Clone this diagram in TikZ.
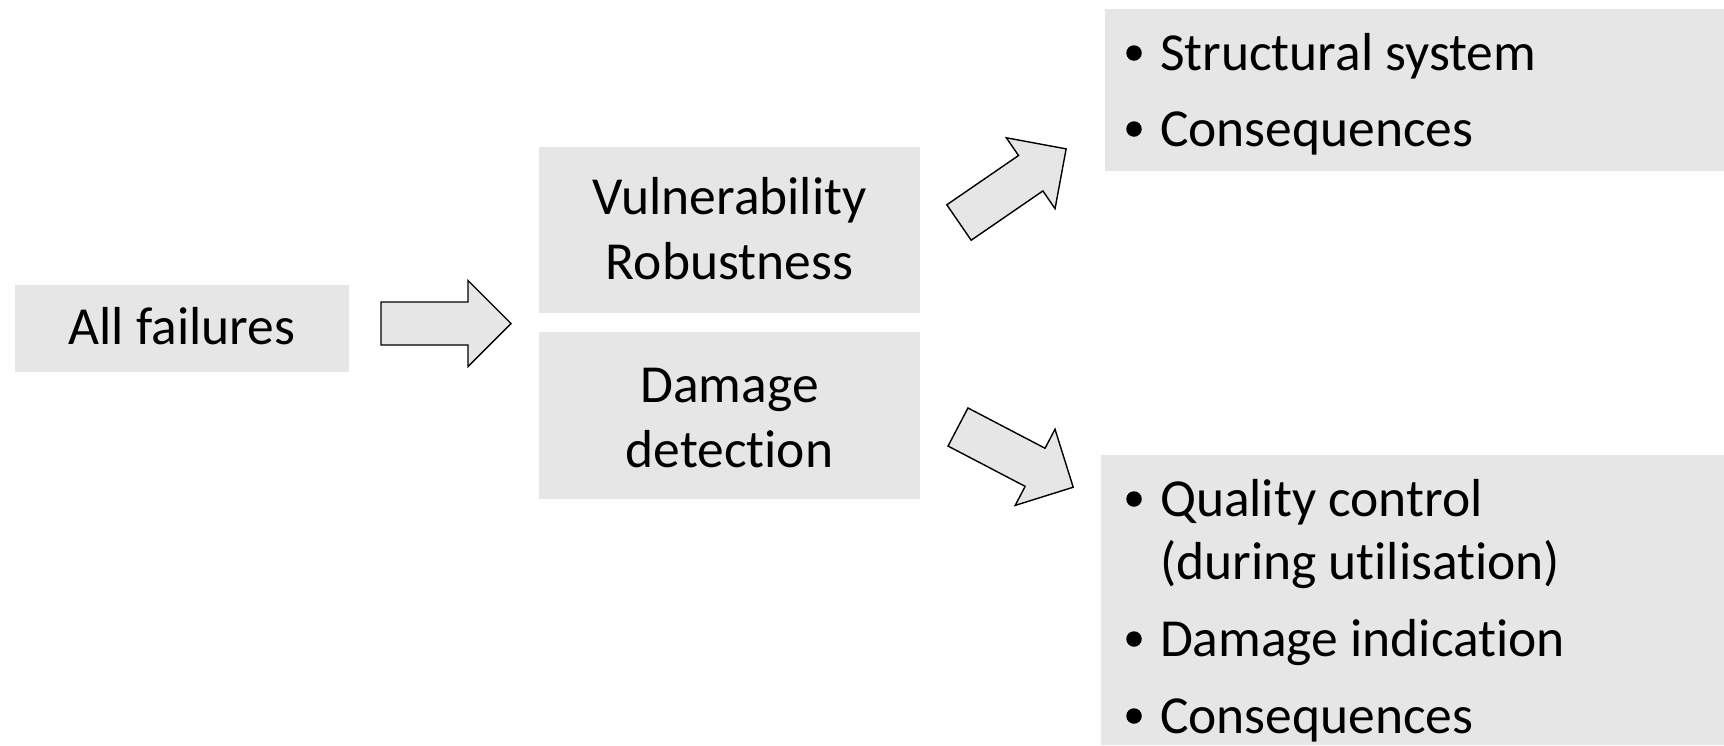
\documentclass[tikz,border=0pt]{standalone}
\usepackage{fontspec}
\setmainfont{Carlito}[Ligatures=NoCommon]
\definecolor{panel}{HTML}{E7E6E6}
\begin{document}
\begin{tikzpicture}[x=1pt,y=-1pt,
  panelbox/.style={fill=panel, draw=none, inner sep=0pt, outer sep=0pt},
  txt/.style={anchor=base, inner sep=0pt, outer sep=0pt, font=\fontsize{53.5}{65}\selectfont},
  itemtxt/.style={txt, anchor=base west},
  dot/.style={circle, fill=black, draw=none, inner sep=0pt, minimum size=15.5pt},
  arrowbody/.style={fill=panel, draw=black, line width=1.4pt, line join=miter},
  blockarrow/.pic={
    \draw[arrowbody] (0,-21.5) -- (87,-21.5) -- (87,-43) -- (130,0)
      -- (87,43) -- (87,21.5) -- (0,21.5) -- cycle;
  }]
\useasboundingbox (0,0) rectangle (1724,745);

% grey panels
\node[panelbox, minimum width=334pt, minimum height=87pt]  (fail)   at (182,328.5)  {};
\node[panelbox, minimum width=381pt, minimum height=166pt] (vuln)   at (729.5,230)  {};
\node[panelbox, minimum width=381pt, minimum height=167pt] (damage) at (729.5,415.5) {};
\node[panelbox, minimum width=619pt, minimum height=162pt] (upper)  at (1414.5,90)  {};
\node[panelbox, minimum width=623pt, minimum height=290pt] (lower)  at (1412.5,600) {};

% panel texts
\node[txt] (failtxt) at (182,344) {All failures};
\node[txt] (vulnA) at (729.5,214) {Vulnerability};
\node[txt] (vulnB) at (729.5,279) {Robustness};
\node[txt] (dmgA) at (729.5,402) {Damage};
\node[txt] (dmgB) at (729.5,467) {detection};

% upper list
\node[dot] (ub1) at (1134,53) {};
\node[itemtxt] (ut1) at (1160,70) {Structural system};
\node[dot] (ub2) at (1134,129) {};
\node[itemtxt] (ut2) at (1160,146) {Consequences};

% lower list
\node[dot] (lb1) at (1134,499) {};
\node[itemtxt] (lt1) at (1160,516) {Quality control};
\node[itemtxt] (lt1b) at (1160,579) {(during utilisation)};
\node[dot] (lb2) at (1134,639) {};
\node[itemtxt] (lt2) at (1160,656) {Damage indication};
\node[dot] (lb3) at (1134,716) {};
\node[itemtxt] (lt3) at (1160,733) {Consequences};

% block arrows
\pic at (381,323.5) {blockarrow};
\pic[rotate=34.5] at (959,222.5) {blockarrow};
\pic[rotate=-27.6] at (958,427) {blockarrow};
\end{tikzpicture}
\end{document}
